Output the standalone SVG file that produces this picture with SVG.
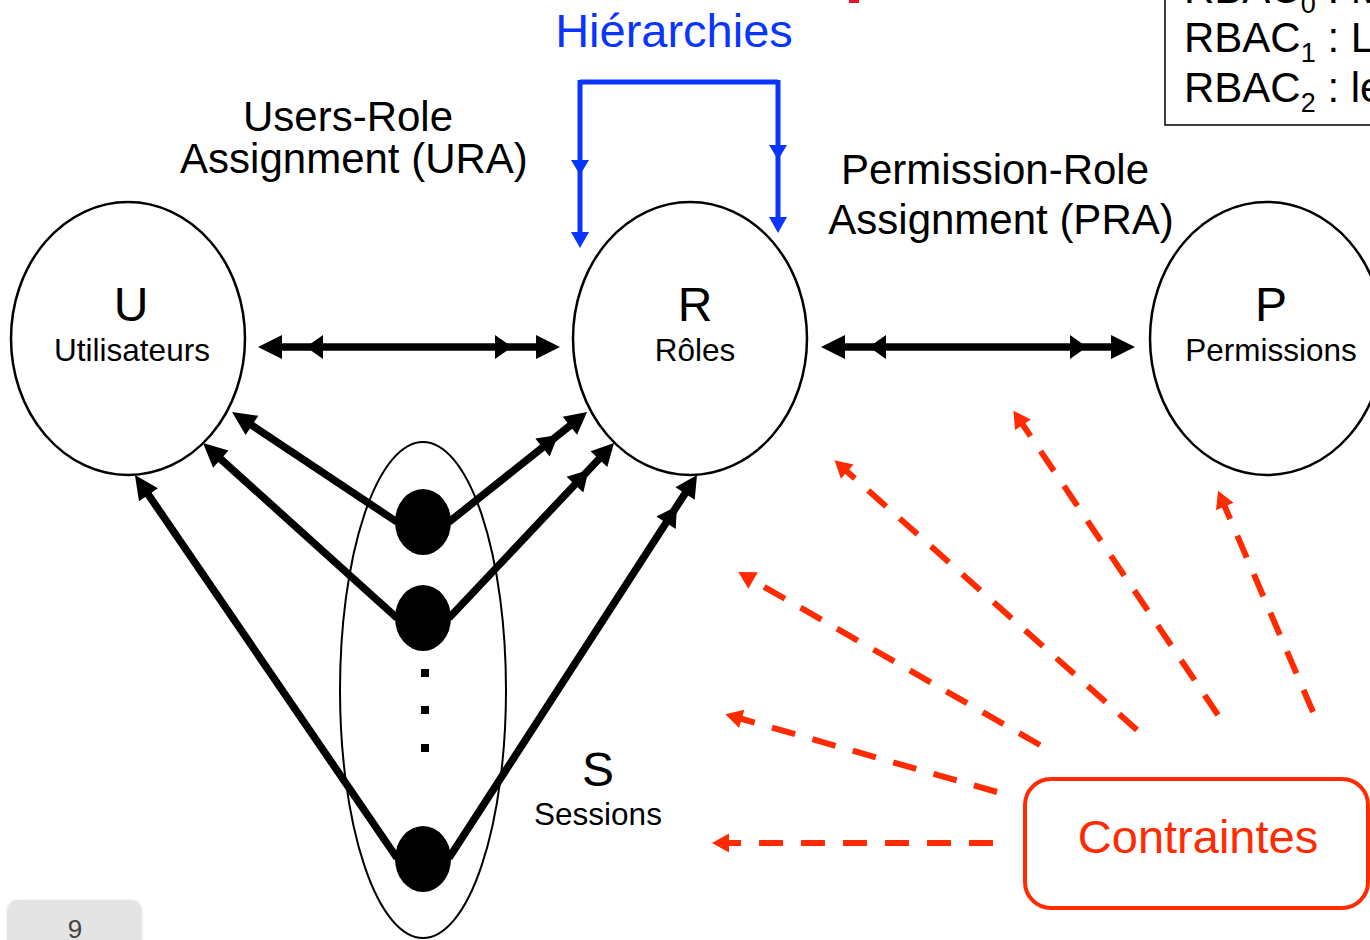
<svg xmlns="http://www.w3.org/2000/svg" width="1370" height="940" viewBox="0 0 1370 940">
  <style>
    .t { font-family: "Liberation Sans", Arial, sans-serif; fill: #000; }
    .node { fill: none; stroke: #000; stroke-width: 2.5; }
    .conn { stroke: #000; stroke-width: 7.5; fill: none; }
    .hier { stroke: #0a34ff; stroke-width: 5; fill: none; }
    .cons { stroke: #ff2a00; stroke-width: 6; fill: none; stroke-dasharray: 24 18; }
  </style>
  <defs>
    <!-- single black head -->
    <marker id="h1" viewBox="-30 -15 35 30" markerWidth="35" markerHeight="30" refX="-12" refY="0" orient="auto" markerUnits="userSpaceOnUse">
      <path d="M0,0 L-24,-11.5 L-24,11.5 Z" fill="#000"/>
    </marker>
    <!-- double black head, horizontal links -->
    <marker id="h2" viewBox="-70 -15 75 30" markerWidth="75" markerHeight="30" refX="-12" refY="0" orient="auto-start-reverse" markerUnits="userSpaceOnUse">
      <path d="M0,0 L-24,-12 L-24,12 Z M-48,0 L-65,-12 L-65,12 Z" fill="#000"/>
    </marker>
    <!-- double black head, session links -->
    <marker id="h2d" viewBox="-65 -15 70 30" markerWidth="70" markerHeight="30" refX="-12" refY="0" orient="auto" markerUnits="userSpaceOnUse">
      <path d="M0,0 L-22,-11.5 L-22,11.5 Z M-37,0 L-57,-11.5 L-57,11.5 Z" fill="#000"/>
    </marker>
    <!-- blue hierarchy heads -->
    <marker id="hb" viewBox="-95 -12 100 24" markerWidth="100" markerHeight="24" refX="-8" refY="0" orient="auto" markerUnits="userSpaceOnUse">
      <path d="M0,0 L-16,-9 L-16,9 Z M-73,0 L-88,-9 L-88,9 Z" fill="#0a34ff"/>
    </marker>
    <!-- red constraint head -->
    <marker id="hr" viewBox="-25 -12 30 24" markerWidth="30" markerHeight="24" refX="-10" refY="0" orient="auto" markerUnits="userSpaceOnUse">
      <path d="M0,0 L-17,-9.5 L-17,9.5 Z" fill="#ff2a00"/>
    </marker>
    <filter id="shadow" x="-10%" y="-30%" width="120%" height="160%">
      <feDropShadow dx="0" dy="1" stdDeviation="1.5" flood-color="#000" flood-opacity="0.25"/>
    </filter>
  </defs>

  <rect width="1370" height="940" fill="#fff"/>

  <!-- title fragment -->
  <rect x="849" y="0" width="10" height="3" fill="#e8132b"/>

  <!-- RBAC legend -->
  <g id="legend">
    <path d="M1165,-5 V125 H1375" fill="none" stroke="#000" stroke-width="1.5"/>
    <text class="t" x="1184" y="3" font-size="42">RBAC<tspan font-size="27" dy="10">0</tspan><tspan dy="-10"> : M</tspan></text>
    <text class="t" x="1184" y="52" font-size="42">RBAC<tspan font-size="27" dy="10">1</tspan><tspan dy="-10"> : L</tspan></text>
    <text class="t" x="1184" y="102" font-size="42">RBAC<tspan font-size="27" dy="10">2</tspan><tspan dy="-10"> : le</tspan></text>
  </g>

  <!-- relation labels -->
  <g id="labels">
    <text class="t" x="348" y="131" font-size="42" text-anchor="middle">Users-Role</text>
    <text class="t" x="354" y="173" font-size="42" text-anchor="middle">Assignment (URA)</text>
    <text class="t" x="995" y="184" font-size="42" text-anchor="middle">Permission-Role</text>
    <text class="t" x="1001" y="234" font-size="42" text-anchor="middle">Assignment (PRA)</text>
    <text class="t" x="674" y="47" font-size="47" text-anchor="middle" style="fill:#0a34ff">Hiérarchies</text>
  </g>

  <!-- connectors -->
  <g id="connectors">
    <!-- role hierarchy -->
    <path class="hier" d="M580,82 H778"/>
    <path class="hier" d="M580,80 V240" marker-end="url(#hb)"/>
    <path class="hier" d="M778,80 V225" marker-end="url(#hb)"/>

    <!-- URA and PRA -->
    <line class="conn" x1="270" y1="347" x2="548" y2="347" marker-start="url(#h2)" marker-end="url(#h2)"/>
    <line class="conn" x1="833" y1="347" x2="1123" y2="347" marker-start="url(#h2)" marker-end="url(#h2)"/>

    <!-- sessions to users -->
    <line class="conn" x1="397" y1="522" x2="242" y2="418.7" marker-end="url(#h1)"/>
    <line class="conn" x1="397" y1="618" x2="211.9" y2="451.1" marker-end="url(#h1)"/>
    <line class="conn" x1="397" y1="858" x2="141.7" y2="484.9" marker-end="url(#h1)"/>

    <!-- sessions to roles -->
    <line class="conn" x1="449" y1="522" x2="577.7" y2="419.5" marker-end="url(#h2d)"/>
    <line class="conn" x1="449" y1="618" x2="605.8" y2="451.8" marker-end="url(#h2d)"/>
    <line class="conn" x1="449" y1="858" x2="690.5" y2="485.1" marker-end="url(#h2d)"/>

    <!-- constraints -->
    <line class="cons" x1="993" y1="843" x2="722" y2="843" marker-end="url(#hr)"/>
    <line class="cons" x1="997" y1="792" x2="735" y2="717" marker-end="url(#hr)"/>
    <line class="cons" x1="1040" y1="745" x2="747" y2="577" marker-end="url(#hr)"/>
    <line class="cons" x1="1137" y1="730" x2="842" y2="467" marker-end="url(#hr)"/>
    <line class="cons" x1="1218" y1="715" x2="1019" y2="419" marker-end="url(#hr)"/>
    <line class="cons" x1="1313" y1="712" x2="1222" y2="500" marker-end="url(#hr)"/>
  </g>

  <!-- users -->
  <g id="users">
    <ellipse class="node" cx="128" cy="338.5" rx="117" ry="136.5"/>
    <text class="t" x="131" y="321" font-size="48" text-anchor="middle">U</text>
    <text class="t" x="132" y="361" font-size="31.5" text-anchor="middle">Utilisateurs</text>
  </g>

  <!-- roles -->
  <g id="roles">
    <ellipse class="node" cx="690" cy="338.5" rx="117" ry="136.5"/>
    <text class="t" x="695" y="321" font-size="48" text-anchor="middle">R</text>
    <text class="t" x="695" y="361" font-size="31.5" text-anchor="middle">Rôles</text>
  </g>

  <!-- permissions -->
  <g id="permissions">
    <ellipse class="node" cx="1267" cy="338.5" rx="117" ry="136.5"/>
    <text class="t" x="1271" y="321" font-size="48" text-anchor="middle">P</text>
    <text class="t" x="1271" y="361" font-size="31.5" text-anchor="middle">Permissions</text>
  </g>

  <!-- sessions -->
  <g id="sessions">
    <ellipse cx="423" cy="690" rx="83" ry="248" fill="none" stroke="#000" stroke-width="2"/>
    <ellipse cx="423" cy="522" rx="28" ry="33" fill="#000"/>
    <ellipse cx="423" cy="618" rx="28" ry="33" fill="#000"/>
    <ellipse cx="423" cy="859" rx="28" ry="33" fill="#000"/>
    <rect x="421" y="669" width="8" height="8" fill="#000"/>
    <rect x="421" y="706" width="8" height="8" fill="#000"/>
    <rect x="421" y="744" width="8" height="8" fill="#000"/>
    <text class="t" x="598" y="786" font-size="48" text-anchor="middle">S</text>
    <text class="t" x="598" y="825" font-size="31.5" text-anchor="middle">Sessions</text>
  </g>

  <!-- constraints -->
  <g id="contraintes">
    <rect x="1025" y="779" width="343" height="129" rx="26" fill="#fff" stroke="#ff2a00" stroke-width="4"/>
    <text class="t" x="1198" y="853" font-size="47" text-anchor="middle" style="fill:#ff2a00">Contraintes</text>
  </g>

  <!-- page number -->
  <g id="page">
    <rect x="8" y="900" width="133" height="60" rx="9" fill="#e4e4e4" filter="url(#shadow)"/>
    <text class="t" x="75" y="938" font-size="26" text-anchor="middle" style="fill:#444">9</text>
  </g>
</svg>
